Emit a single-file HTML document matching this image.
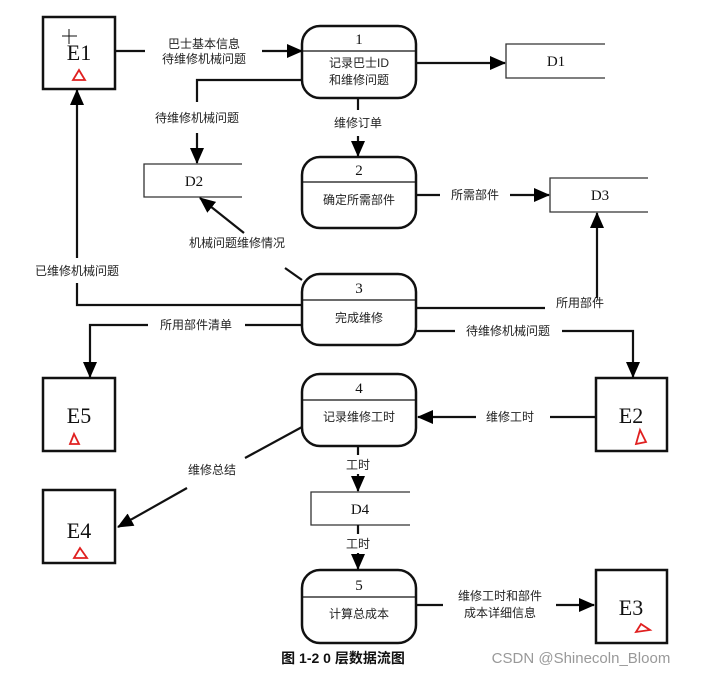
<!DOCTYPE html>
<html><head><meta charset="utf-8"><style>
html,body{margin:0;padding:0;background:#fff;}
svg{display:block;}
text{font-family:"Liberation Sans","Noto Sans CJK SC",sans-serif;font-size:12px;fill:#222;}
.e{font-family:"Liberation Serif","Noto Serif CJK SC",serif;font-size:22px;fill:#111;}
.n{font-family:"Liberation Serif",serif;font-size:15px;fill:#111;}
.d{font-family:"Liberation Serif",serif;font-size:15px;fill:#111;}
</style></head><body>
<svg width="706" height="675" viewBox="0 0 706 675" xmlns="http://www.w3.org/2000/svg">
<defs><marker id="b" markerWidth="16" markerHeight="14" refX="15" refY="7" orient="auto" markerUnits="userSpaceOnUse"><path d="M0,0 L16,7 L0,14 z" fill="#000"/></marker></defs>
<g fill="none" stroke="#111" stroke-width="2.5">
<rect x="43" y="17" width="72" height="72"/>
<rect x="43" y="378" width="72" height="73"/>
<rect x="596" y="378" width="71" height="73"/>
<rect x="43" y="490" width="72" height="73"/>
<rect x="596" y="570" width="71" height="73"/>
<rect x="302" y="26" width="114" height="72" rx="18"/>
<rect x="302" y="157" width="114" height="71" rx="18"/>
<rect x="302" y="274" width="114" height="71" rx="18"/>
<rect x="302" y="374" width="114" height="72" rx="18"/>
<rect x="302" y="570" width="114" height="73" rx="18"/>
</g>
<g stroke="#111" stroke-width="1.3">
<line x1="302" y1="51" x2="416" y2="51"/><line x1="302" y1="182" x2="416" y2="182"/>
<line x1="302" y1="300" x2="416" y2="300"/><line x1="302" y1="400" x2="416" y2="400"/>
<line x1="302" y1="597" x2="416" y2="597"/>
</g>
<g fill="none" stroke="#333" stroke-width="1.3">
<path d="M605,44 H506 V78 H605"/><path d="M242,164 H144 V197 H242"/>
<path d="M648,178 H550 V212 H648"/><path d="M410,492 H311 V525 H410"/>
</g>
<g fill="none" stroke="#111" stroke-width="2.2">
<path d="M115,51 H145 M262,51 H302" marker-end="url(#b)"/>
<path d="M416,63 H505" marker-end="url(#b)"/>
<path d="M302,80 H197 V102"/><path d="M197,133 V163" marker-end="url(#b)"/>
<path d="M358,98 V110"/><path d="M358,136 V156" marker-end="url(#b)"/>
<path d="M416,195 H440"/><path d="M510,195 H549" marker-end="url(#b)"/>
<path d="M302,280 L285,268"/><path d="M244,233 L200,198" marker-end="url(#b)"/>
<path d="M302,305 H77 V283"/><path d="M77,258 V90" marker-end="url(#b)"/>
<path d="M302,325 H245"/><path d="M148,325 H90 V377" marker-end="url(#b)"/>
<path d="M416,308 H545"/><path d="M597,298 V213" marker-end="url(#b)"/>
<path d="M416,331 H455"/><path d="M562,331 H633 V377" marker-end="url(#b)"/>
<path d="M596,417 H550"/><path d="M476,417 H418" marker-end="url(#b)"/>
<path d="M302,427 L245,458"/><path d="M187,488 L118,527" marker-end="url(#b)"/>
<path d="M358,446 V455"/><path d="M358,474 V491" marker-end="url(#b)"/>
<path d="M358,525 V534"/><path d="M358,553 V569" marker-end="url(#b)"/>
<path d="M416,605 H443"/><path d="M556,605 H594" marker-end="url(#b)"/>
</g>
<g fill="none" stroke="#e02020" stroke-width="1.8">
<path d="M79,70 L73,80 L85,80 z"/><path d="M74,434 L70,444 L79,444 z"/>
<path d="M640,430 L636,444 L646,442 z"/><path d="M80,548 L74,558 L87,558 z"/>
<path d="M641,624 L636,632 L650,630 z"/>
</g>
<path d="M62,36 H77 M69,29 V44" stroke="#111" stroke-width="1"/>
<g text-anchor="middle">
<text class="e" x="79" y="60">E1</text><text class="e" x="79" y="423">E5</text>
<text class="e" x="631" y="423">E2</text><text class="e" x="79" y="538">E4</text>
<text class="e" x="631" y="615">E3</text>
<text class="n" x="359" y="44">1</text><text class="n" x="359" y="175">2</text>
<text class="n" x="359" y="293">3</text><text class="n" x="359" y="393">4</text>
<text class="n" x="359" y="590">5</text>
<text x="359" y="67">记录巴士ID</text><text x="359" y="84">和维修问题</text>
<text x="359" y="204">确定所需部件</text><text x="359" y="322">完成维修</text>
<text x="359" y="421">记录维修工时</text><text x="359" y="618">计算总成本</text>
<text class="d" x="556" y="66">D1</text><text class="d" x="194" y="186">D2</text>
<text class="d" x="600" y="200">D3</text><text class="d" x="360" y="514">D4</text>
<text x="204" y="48">巴士基本信息</text><text x="204" y="63">待维修机械问题</text>
<text x="197" y="122">待维修机械问题</text><text x="358" y="127">维修订单</text>
<text x="475" y="199">所需部件</text><text x="237" y="247">机械问题维修情况</text>
<text x="77" y="275">已维修机械问题</text><text x="196" y="329">所用部件清单</text>
<text x="580" y="307">所用部件</text><text x="508" y="335">待维修机械问题</text>
<text x="510" y="421">维修工时</text><text x="212" y="474">维修总结</text>
<text x="358" y="469">工时</text><text x="358" y="548">工时</text>
<text x="500" y="600">维修工时和部件</text><text x="500" y="617">成本详细信息</text>
<text x="343" y="663" style="font-weight:bold;font-size:14px;fill:#111">图 1-2 0 层数据流图</text>
<text x="581" y="663" style="font-size:15px;fill:#999">CSDN @Shinecoln_Bloom</text>
</g>
</svg>
</body></html>
